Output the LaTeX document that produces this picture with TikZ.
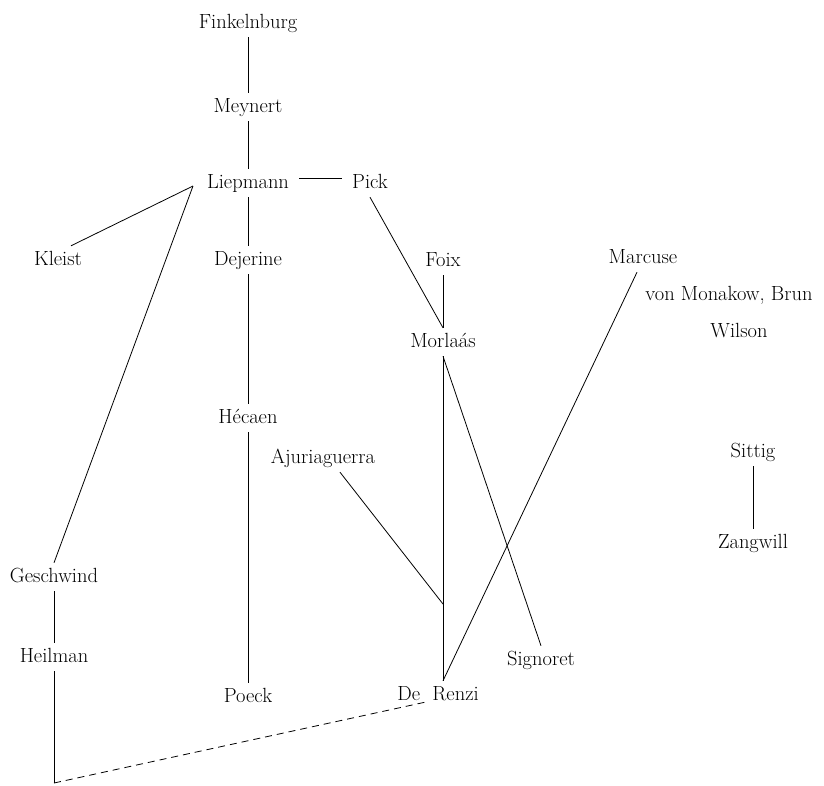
\documentclass[tikz,border=0pt]{standalone}
\usepackage{fontspec}
\usepackage{tikz}
\usetikzlibrary{positioning}

\begin{document}
\begin{tikzpicture}[
    x=1pt, y=-1pt,
    person/.style={anchor=base, inner xsep=10pt, inner ysep=6pt, text height=13pt, text depth=3pt, font=\fontsize{20.5}{24}\selectfont},
    link/.style={draw, line width=0.8pt},
    maybe/.style={link, dash pattern=on 7pt off 5pt},
]
    \useasboundingbox (0,0) rectangle (824,785);

    % Names
    \node[person] (finkelnburg) at (248,28) {Finkelnburg};
    \node[person] (meynert) at (248,112) {Meynert};
    \node[person] (liepmann) at (248,188) {Liepmann};
    \node[person] (pick) at (370,188) {Pick};
    \node[person] (kleist) at (58,265) {Kleist};
    \node[person] (dejerine) at (248,265) {Dejerine};
    \node[person] (foix) at (443,266) {Foix};
    \node[person] (marcuse) at (643,263) {Marcuse};
    \node[person] (monakow) at (729,300) {von Monakow, Brun};
    \node[person] (wilson) at (739,337) {Wilson};
    \node[person] (morlaas) at (443,347) {Morlaás};
    \node[person] (hecaen) at (248,423) {Hécaen};
    \node[person] (ajuria) at (323,463) {Ajuriaguerra};
    \node[person] (sittig) at (753,457) {Sittig};
    \node[person] (zangwill) at (753,548) {Zangwill};
    \node[person] (geschwind) at (54,582) {Geschwind};
    \node[person] (heilman) at (54,662) {Heilman};
    \node[person] (signoret) at (541,665) {Signoret};
    \node[person] (poeck) at (248,702) {Poeck};
    \node[person] (derenzi) at (438,700) {De\ \ Renzi};

    % Free ends
    \coordinate (fork) at (193,186);
    \coordinate (join) at (443,604);
    \coordinate (corner) at (54,783);

    % Main column
    \draw[link] (finkelnburg) -- (meynert);
    \draw[link] (meynert) -- (liepmann);
    \draw[link] (liepmann) -- (dejerine);
    \draw[link] (dejerine) -- (hecaen);
    \draw[link] (hecaen) -- (poeck);
    \draw[link] ([yshift=5pt]liepmann.east) -- ([yshift=5pt]pick.west);

    % Left branch
    \draw[link] ([xshift=13pt]kleist.north) -- (fork);
    \draw[link] (fork) -- (geschwind.north);
    \draw[link] (geschwind) -- (heilman);
    \draw[link] (heilman) -- (corner);
    \draw[maybe] (corner) -- ([xshift=-13pt, yshift=7pt]derenzi.south);

    % Right branch
    \draw[link] (pick.south) -- (morlaas.north);
    \draw[link] (foix) -- (morlaas);
    \draw[link] (morlaas.south) -- (morlaas.south |- derenzi.north);
    \draw[link] (morlaas.south) -- (signoret.north);
    \draw[link] ([xshift=17pt]ajuria.south) -- (join);
    \draw[link] ([xshift=-6pt]marcuse.south) -- (morlaas.south |- derenzi.north);

    % Apart
    \draw[link] (sittig) -- (zangwill);
\end{tikzpicture}
\end{document}
